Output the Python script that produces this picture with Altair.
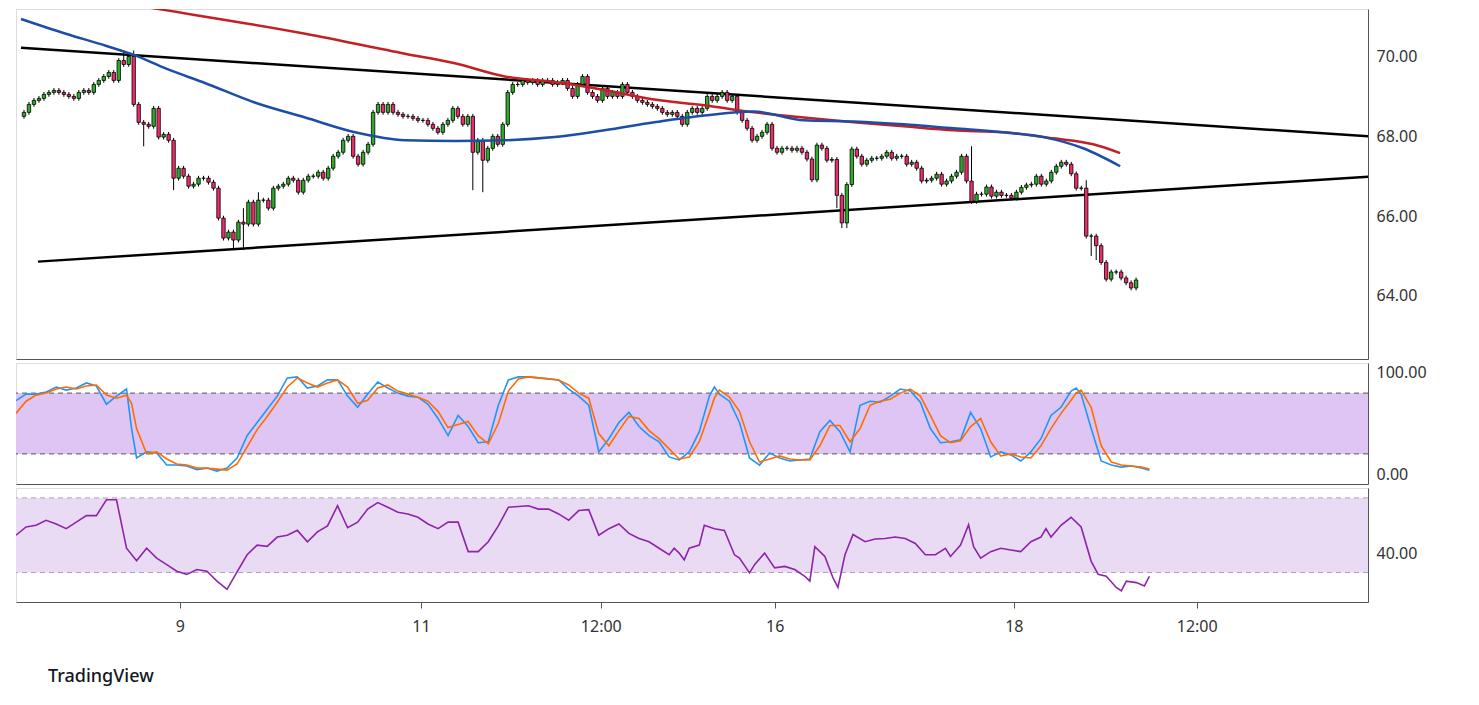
import altair as alt
import pandas as pd
import numpy as np

# ---------------- price candles (hourly-ish index) ----------------
closes = [68.6,68.8,68.9,68.95,69.05,69.1,69.15,69.1,69.05,69.0,68.95,69.1,69.15,69.1,69.3,69.4,69.5,69.6,69.4,69.9,
          69.8,70.0,68.8,68.35,68.3,68.25,68.7,67.98,68.05,67.9,66.95,67.2,67.0,66.75,66.8,66.95,66.95,66.85,66.7,65.95,
          65.45,65.6,65.4,65.85,65.8,66.35,65.8,66.4,66.4,66.2,66.7,66.75,66.8,66.95,66.9,66.6,66.9,67.0,
          67.0,67.1,66.95,67.2,67.5,67.6,67.9,68.0,67.5,67.3,
          67.6,67.8,68.6,68.8,68.6,68.8,68.6,68.55,68.5,68.5,
          68.45,68.4,68.4,68.3,68.2,68.1,68.3,68.4,68.7,68.5,
          68.3,68.5,67.6,67.9,67.4,67.7,68.0,67.8,68.3,69.1,
          69.3,69.3,69.4,69.35,69.4,69.3,69.4,69.4,69.3,69.35,
          69.4,69.2,69.0,69.3,69.5,69.1,69.0,68.9,69.2,69.0,
          69.1,69.0,69.3,69.1,69.0,68.9,68.85,68.8,68.75,68.7,
          68.6,68.55,68.6,68.5,68.3,68.6,68.7,68.6,68.7,69.0,
          68.9,69.0,69.1,68.9,69.0,68.6,68.4,68.2,67.9,68.0,
          68.1,68.3,67.7,67.6,67.7,67.7,67.65,67.7,67.6,
          67.43,66.91,67.78,67.7,67.4,67.42,66.52,65.83,66.79,67.68,
          67.5,67.3,67.4,67.45,67.45,67.5,67.6,67.45,67.5,67.5,
          67.3,67.35,67.2,66.88,66.9,66.95,67.05,66.8,66.88,67.0,
          67.1,67.5,66.88,66.37,66.55,66.55,66.73,66.5,66.6,66.52,
          66.52,66.45,66.6,66.72,66.78,66.8,67.0,66.8,66.88,67.1,
          67.25,67.35,67.3,67.06,66.7,66.7,65.5,65.5,65.26,64.84,
          64.42,64.6,64.6,64.45,64.33,64.2,64.4]
first_open = 68.5
high_over = {20: 70.15, 22: 70.15, 44: 66.2, 47: 66.6, 190: 67.75, 213: 66.9}
low_over = {24: 67.75, 30: 66.65, 42: 65.15, 44: 65.15, 90: 66.65, 92: 66.6,
            163: 66.2, 164: 65.7, 165: 65.7, 214: 65.0, 215: 64.9}

# moving averages (candle index, price)
red_t = [-0.6,26.4,56.4,76.4,86.4,96.4,106.4,116.4,126.4,136.4,146.4,156.4,166.4,176.4,186.4,196.4,206.4,214.4,219.8]
red_v = [71.75,71.2,70.57,70.07,69.83,69.5,69.36,69.16,68.92,68.78,68.6,68.47,68.35,68.25,68.15,68.1,67.95,67.8,67.58]
blue_t = [-0.6,8.4,16.4,22.4,28.4,36.4,46.4,56.4,66.4,76.4,86.4,96.4,106.4,116.4,126.4,136.4,146.4,156.4,166.4,176.4,186.4,196.4,204.4,212.4,219.8]
blue_v = [70.94,70.57,70.27,70.02,69.7,69.33,68.84,68.47,68.1,67.9,67.88,67.9,67.98,68.15,68.35,68.52,68.62,68.4,68.37,68.3,68.2,68.1,67.98,67.7,67.25]

# trendlines
upper_t = [-0.6, 269.8]; upper_v = [70.22, 68.0]
lower_t = [2.8, 269.8]; lower_v = [64.86, 66.99]

# ---------------- stochastic ----------------
stoch_t = (list(np.round(np.arange(-0.6, 22, 2), 1)) + [22.4] +
           list(np.round(np.arange(23.4, 138, 2), 1)) + [138.4] +
           list(np.round(np.arange(139.4, 210, 2), 1)) + [210.4] +
           list(np.round(np.arange(211.4, 224, 2), 1)) + [225.0])
stoch_k = [72.5,79,79,81,86,83,85,90,87,69,77,84, 45,
           16,22,21,9,9,8,4.5,6,3,6,16,38,51,64,77,95,96,85,87,93,93,77,66,79,91,85,80,77,76,69,
           55,38,58,47,31,32,68,93,96,96,95,94,93,84,77,68,22,35,51,61,47,38,32,17,14,22,42,77,
           86,
           79,72,51,16,9,21,16,13,14,15,42,53,42,22,68,72,71,77,84,82,71,45,31,32,34,61,45,17,22,19,13,22,35,58,66,82,
           85,
           79,45,13,9,7,8,6, 4]
stoch_d = [60,72,78,80,84,86,84,87,88,78,75,78, 70,
           45,20,22,15,10,9,6,6,5,4,10,27,44,57,71,86,95,90,86,90,93,86,70,73,85,88,82,79,76,72,
           62,46,49,52,38,30,50,82,94,96,95,94,93,88,80,75,40,28,43,57,55,43,35,25,15,17,32,60,
           75,
           83,76,62,32,12,15,18,15,14,14,28,48,48,32,45,68,72,74,80,84,77,58,38,31,33,47,55,32,18,20,17,16,28,45,60,73,
           80,
           83,66,28,12,9,8,7, 5]

# ---------------- RSI ----------------
rsi_t = list(np.round(np.arange(-0.6, 112, 2), 1)) + [
    113.4,115.4,117.4,119.4,121.4,123.4,125.4,127.4,129.4,130.4,131.4,132.4,133.4,135.4,136.4,138.4,140.4,142.4,143.4,145.4,
    146.4,148.4,150.4,152.4,154.4,156.4,157.4,158.4,160.4,162,163,164.4,166,168.4,170.4,172.4,174.4,176.4,178.4,180.4,
    182.4,184.4,185.4,187.4,189,190,191.4,193.4,195.4,197.4,199.4,201.4,203.4,204.4,205.4,207.4,209.4,211.4,213.4,214.8,
    216.4,218.4,219.4,220.4,222.4,224,225]
rsi_v = [50,54.4,55.3,58,56,53.5,57,60.5,60.5,69,69,43,36.3,43,37.7,34.2,30.7,29,31.6,30.7,
         25.4,21,30.4,39.5,44.7,44,49,50,52.6,46.5,51.8,55,65.8,54,57,64,67.5,65,62.3,61.4,
         59.6,56,53.5,57,57,41.2,41.2,46.5,55,65,65.4,65.8,64,64,61.4,58,63.2,
         63.7,50,53.5,56,51,48.2,46.5,43,39.5,43,40.4,36.8,43,44.7,55.3,53.5,52.6,39.5,37.7,29.8,
         34.2,40.4,32.5,33.3,31.6,28,25.4,43.9,38.6,27.2,22,39.5,50.4,46.5,48,48.2,49,48.2,45.6,39.5,
         39.5,43,38.6,44.7,55.6,43.9,37.7,41.2,43,42.1,41.2,46.5,49,53.5,49,55.3,59.6,54.4,36,29,
         28,22,20.2,25.4,24.6,22.8,28]

tick_idx = [32, 80, 115.8, 150.4, 198, 234.4]
tick_txt = ["9", "11", "12:00", "16", "18", "12:00"]

# ---------------- build frames ----------------
opens = [first_open] + closes[:-1]
rows = []
for i, (o, c) in enumerate(zip(opens, closes)):
    h = high_over.get(i, max(o, c) + 0.06)
    l = low_over.get(i, min(o, c) - 0.06)
    rows.append(dict(i=i, o=o, c=c, h=h, l=l, up=c >= o))
cdf = pd.DataFrame(rows)

W = 1352
XD = [-0.6, 268.5]
FONT = "Noto Sans"
BG = "#f2f2f2"

def xenc(show=False):
    if show:
        expr = " : ".join(f"datum.value == {v} ? '{t}'" for v, t in zip(tick_idx, tick_txt)) + " : ''"
        ax = alt.Axis(values=tick_idx, labelExpr=expr, grid=False, title=None, domainColor="#555",
                      tickColor="#555", tickSize=6, labelFontSize=16, labelColor="#333",
                      labelPadding=10, labelFont=FONT)
    else:
        ax = alt.Axis(labels=False, ticks=False, grid=False, title=None, domainColor="#555")
    return alt.X("t:Q", scale=alt.Scale(domain=XD, nice=False, zero=False), axis=ax)

def yaxis(vals):
    return alt.Axis(values=vals, format=".2f", orient="right", grid=False, title=None, domainColor="#555",
                    ticks=False, labelFontSize=16, labelColor="#333", labelPadding=8, labelFont=FONT)

xs = alt.Scale(domain=XD, nice=False, zero=False)
ys_main = alt.Scale(domain=[62.42, 71.19], nice=False, zero=False)

base = alt.Chart(cdf)
wicks = base.mark_rule(color="#000", strokeWidth=1, clip=True).encode(
    x=alt.X("i:Q", scale=xs, axis=alt.Axis(labels=False, ticks=False, grid=False, title=None, domainColor="#555")),
    y=alt.Y("l:Q", scale=ys_main, axis=yaxis([64, 66, 68, 70])), y2="h:Q")
bodies = base.mark_bar(size=3.4, stroke="#000", strokeWidth=0.8, clip=True).encode(
    x=alt.X("i:Q", scale=xs), y=alt.Y("o:Q", scale=ys_main), y2="c:Q",
    color=alt.condition("datum.up", alt.value("#2eab2b"), alt.value("#eb2d67")))

def line(ts, vs, color, width, scale):
    df = pd.DataFrame({"t": ts, "v": vs})
    return alt.Chart(df).mark_line(color=color, strokeWidth=width, clip=True, interpolate="monotone").encode(
        x=alt.X("t:Q", scale=xs), y=alt.Y("v:Q", scale=scale))

main = alt.layer(
    line(upper_t, upper_v, "#000", 2.5, ys_main),
    line(lower_t, lower_v, "#000", 2.5, ys_main),
    wicks, bodies,
    line(red_t, red_v, "#c41f24", 2.5, ys_main),
    line(blue_t, blue_v, "#1d4ea6", 2.5, ys_main),
).properties(width=W, height=350)

# stochastic panel
ys_st = alt.Scale(domain=[-9.7, 109.7], nice=False)
band_st = alt.Chart(pd.DataFrame({"a": [20], "b": [80]})).mark_rect(color="#dfc5f3").encode(
    y=alt.Y("a:Q", scale=ys_st, axis=yaxis([0, 100])), y2="b:Q")
dash_st = alt.Chart(pd.DataFrame({"y": [20, 80]})).mark_rule(color="#555", strokeDash=[5, 4], strokeWidth=1).encode(
    y=alt.Y("y:Q", scale=ys_st))
stdf = pd.DataFrame({"t": stoch_t, "k": stoch_k, "d": stoch_d})
kline = alt.Chart(stdf).mark_line(color="#2196f3", strokeWidth=1.6, clip=True).encode(
    x=xenc(False), y=alt.Y("k:Q", scale=ys_st))
dline = alt.Chart(stdf).mark_line(color="#ff6d00", strokeWidth=1.6, clip=True).encode(
    x=alt.X("t:Q", scale=xs), y=alt.Y("d:Q", scale=ys_st))
stoch = alt.layer(band_st, dash_st, kline, dline).properties(width=W, height=121)

# RSI panel
ys_rsi = alt.Scale(domain=[14.2, 75.3], nice=False)
band_r = alt.Chart(pd.DataFrame({"a": [30], "b": [70]})).mark_rect(color="#e9dbf3").encode(
    y=alt.Y("a:Q", scale=ys_rsi, axis=yaxis([40])), y2="b:Q")
dash_r = alt.Chart(pd.DataFrame({"y": [30, 70]})).mark_rule(color="#b0a0b8", strokeDash=[5, 4], strokeWidth=1).encode(
    y=alt.Y("y:Q", scale=ys_rsi))
rline = alt.Chart(pd.DataFrame({"t": rsi_t, "v": rsi_v})).mark_line(color="#8e24aa", strokeWidth=1.6, clip=True).encode(
    x=xenc(True), y=alt.Y("v:Q", scale=ys_rsi))
rsi = alt.layer(band_r, dash_r, rline).properties(width=W, height=114)

chart = alt.vconcat(main, stoch, rsi, spacing=2).properties(
    padding={"left": 7, "top": 0, "right": 5, "bottom": 5},
    title=alt.TitleParams("TradingView", orient="bottom", anchor="start", fontSize=18, fontWeight=500,
                          font=FONT, color="#131722", dx=33, offset=33),
).configure_view(fill=BG, stroke=None).configure(background="white")

chart.save("out.html", embed_options={"renderer": "svg", "actions": False})
